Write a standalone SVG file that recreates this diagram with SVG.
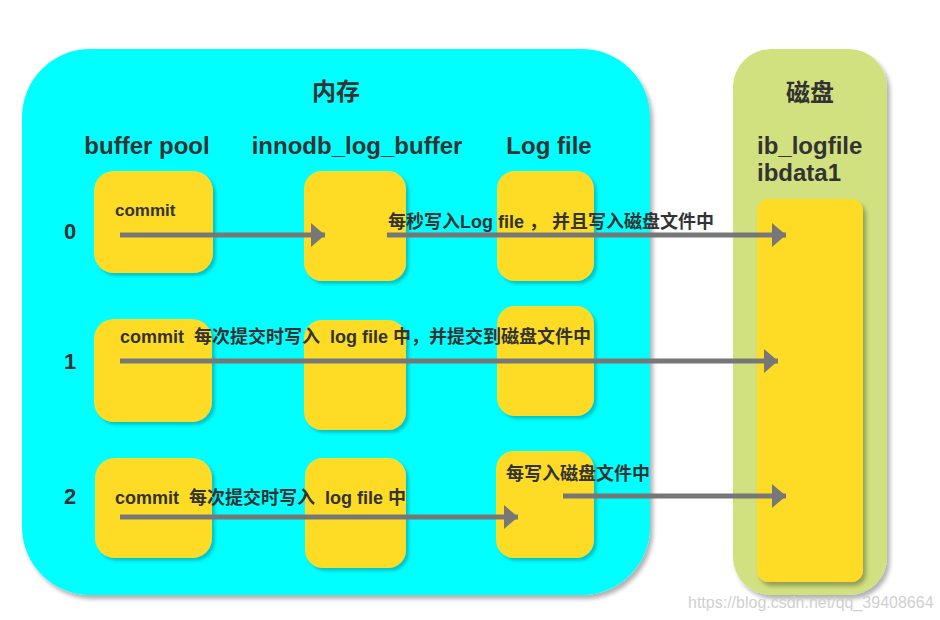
<svg xmlns="http://www.w3.org/2000/svg" width="940" height="620" viewBox="0 0 940 620">
<defs>
<style>
.t{font-family:"Liberation Sans","Noto Sans CJK SC",sans-serif;font-weight:bold;fill:#333}
.h{font-size:24px}
.s{font-size:18px}
.y{fill:#FEDC27}
.ln{stroke:#777;stroke-width:5;fill:none}
.wm{font-family:"Liberation Sans",sans-serif;font-size:16px;fill:#d0d0d0}
</style>
<filter id="sh" x="-10%" y="-10%" width="130%" height="130%">
<feDropShadow dx="3" dy="4" stdDeviation="2" flood-color="#000" flood-opacity="0.3"/>
</filter>
<filter id="shy" x="-20%" y="-20%" width="150%" height="150%">
<feDropShadow dx="3" dy="3" stdDeviation="1.5" flood-color="#006060" flood-opacity="0.35"/>
</filter>
<marker id="ah" markerUnits="userSpaceOnUse" markerWidth="16" markerHeight="24" refX="14" refY="12" orient="auto">
<path d="M0,0 L14,12 L0,24 Z" fill="#777"/>
</marker>
</defs>
<rect width="940" height="620" fill="#fff"/>
<g id="memory">
<rect x="22" y="49" width="628" height="546" rx="68" fill="#00FFFF" filter="url(#sh)"/>
<text class="t" x="336" y="100" font-size="24" text-anchor="middle">内存</text>
<text class="t h" x="147" y="154" text-anchor="middle">buffer pool</text>
<text class="t h" x="357" y="154" text-anchor="middle">innodb_log_buffer</text>
<text class="t h" x="549" y="154" text-anchor="middle">Log file</text>
<text class="t" x="70" y="239" font-size="22" text-anchor="middle">0</text>
<text class="t" x="70" y="369" font-size="22" text-anchor="middle">1</text>
<text class="t" x="70" y="504" font-size="22" text-anchor="middle">2</text>
</g>
<g id="disk">
<rect x="733" y="49" width="154" height="546" rx="38" fill="#D2E17F" filter="url(#sh)"/>
<text class="t" x="810" y="101" font-size="24" text-anchor="middle">磁盘</text>
<text class="t" x="757" y="154" font-size="24">ib_logfile</text>
<text class="t" x="757" y="181" font-size="24">ibdata1</text>
</g>
<g id="disk-file"><rect class="y" x="757" y="199" width="106" height="383" rx="12" filter="url(#sh)"/></g>
<g id="bp0"><rect class="y" x="94" y="171" width="119" height="102" rx="20" filter="url(#shy)"/></g>
<g id="lb0"><rect class="y" x="304" y="171" width="102" height="110" rx="18" filter="url(#shy)"/></g>
<g id="lf0"><rect class="y" x="497" y="171" width="97" height="110" rx="18" filter="url(#shy)"/></g>
<g id="bp1"><rect class="y" x="94" y="319" width="118" height="103" rx="20" filter="url(#shy)"/></g>
<g id="lb1"><rect class="y" x="304" y="320" width="102" height="110" rx="18" filter="url(#shy)"/></g>
<g id="lf1"><rect class="y" x="497" y="306" width="97" height="110" rx="18" filter="url(#shy)"/></g>
<g id="bp2"><rect class="y" x="95" y="458" width="117" height="100" rx="20" filter="url(#shy)"/></g>
<g id="lb2"><rect class="y" x="305" y="458" width="101" height="110" rx="18" filter="url(#shy)"/></g>
<g id="lf2"><rect class="y" x="496" y="451" width="98" height="107" rx="18" filter="url(#shy)"/></g>
<g id="connectors">
<line class="ln" x1="120" y1="235" x2="325" y2="235" marker-end="url(#ah)"/>
<line class="ln" x1="387" y1="235" x2="786" y2="235" marker-end="url(#ah)"/>
<line class="ln" x1="120" y1="361" x2="778" y2="361" marker-end="url(#ah)"/>
<line class="ln" x1="120" y1="517" x2="518" y2="517" marker-end="url(#ah)"/>
<line class="ln" x1="563" y1="496" x2="786" y2="496" marker-end="url(#ah)"/>
</g>
<g id="labels">
<text class="t" x="115" y="216" font-size="17">commit</text>
<text class="t s" x="388" y="228" xml:space="preserve">每秒写入Log file ， 并且写入磁盘文件中</text>
<text class="t s" x="120" y="343" xml:space="preserve">commit  每次提交时写入  log file 中，并提交到磁盘文件中</text>
<text class="t s" x="115" y="504" xml:space="preserve">commit  每次提交时写入  log file 中</text>
<text class="t s" x="506" y="480">每写入磁盘文件中</text>
</g>
<text class="wm" x="688" y="608">https://blog.csdn.net/qq_39408664</text>
</svg>
